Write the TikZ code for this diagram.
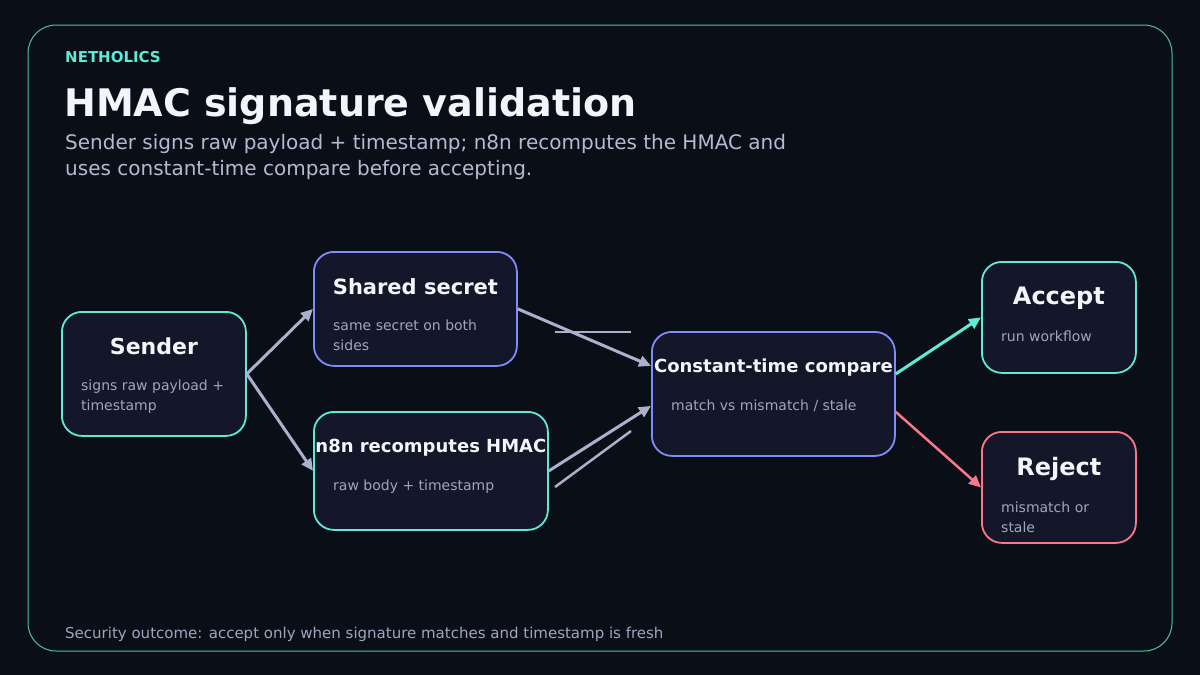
\documentclass[tikz,border=0pt]{standalone}
\usepackage{fontspec}
\setmainfont{DejaVu Sans}
\usetikzlibrary{arrows.meta,positioning,calc}

\definecolor{bgdark}{HTML}{0A0E17}
\definecolor{cardfill}{HTML}{131729}
\definecolor{tealline}{HTML}{5EEAD4}
\definecolor{indigoline}{HTML}{818CF8}
\definecolor{roseline}{HTML}{F8788A}
\definecolor{flowgrey}{HTML}{A9B1CC}
\definecolor{headwhite}{HTML}{F3F5FA}
\definecolor{leadgrey}{HTML}{B3BBD2}
\definecolor{notegrey}{HTML}{9EA6BE}

\begin{document}
\begin{tikzpicture}[x=1pt,y=-1pt,
    card/.style={draw, line width=1.8pt, fill=cardfill, rounded corners=20pt, inner sep=0pt, anchor=north west},
    cardhead/.style={anchor=base, text=headwhite, font=\bfseries\fontsize{22}{26}\selectfont, inner sep=0pt},
    cardnote/.style={anchor=base west, text=notegrey, font=\fontsize{14}{20}\selectfont, align=left, inner sep=0pt},
    flow/.style={draw=flowgrey, line width=3pt, -{Triangle[length=12pt,width=11pt]}},
  ]
    \useasboundingbox (0,0) rectangle (1200,675);
    \fill[bgdark] (0,0) rectangle (1200,675);
    \draw[tealline!80!bgdark, line width=1pt, rounded corners=28pt] (28,25) rectangle (1172,651);
    % header
    \node[anchor=base west, text=tealline, font=\bfseries\fontsize{15}{18}\selectfont, inner sep=0pt] (brand) at (65,62) {NETHOLICS};
    \node[anchor=base west, text=headwhite, font=\bfseries\fontsize{38}{45}\selectfont, inner sep=0pt] (title) at (64,116) {HMAC signature validation};
    % base of a two-line node is its last line
    \node[anchor=base west, text=leadgrey, font=\fontsize{20}{26}\selectfont, align=left, inner sep=0pt] (lead) at (65,175)
      {Sender signs raw payload + timestamp; n8n recomputes the HMAC and\\uses constant-time compare before accepting.};
    % Sender
    \node[card, draw=tealline, minimum width=184pt, minimum height=124pt] (sender) at (61,311) {};
    \node[cardhead] (senderhead) at ($(sender.north)+(0,43)$) {Sender};
    \node[cardnote] (sendernote) at ($(sender.north west)+(20,99)$) {signs raw payload +\\timestamp};
    % Shared secret
    \node[card, draw=indigoline, minimum width=203pt, minimum height=114pt] (secret) at (313,251) {};
    \node[cardhead, font=\bfseries\fontsize{21}{25}\selectfont] (secrethead) at ($(secret.north)+(0,43)$) {Shared secret};
    \node[cardnote] (secretnote) at ($(secret.north west)+(20,99)$) {same secret on both\\sides};
    % n8n recomputes
    \node[card, draw=tealline, minimum width=234pt, minimum height=118pt] (recompute) at (313,411) {};
    \node[cardhead, font=\bfseries\fontsize{18}{22}\selectfont] (recomputehead) at ($(recompute.north)+(0,41)$) {n8n recomputes HMAC};
    \node[cardnote] (recomputenote) at ($(recompute.north west)+(20,79)$) {raw body + timestamp};
    % Constant-time compare
    \node[card, draw=indigoline, minimum width=243pt, minimum height=124pt] (compare) at (651,331) {};
    \node[cardhead, font=\bfseries\fontsize{18}{22}\selectfont] (comparehead) at ($(compare.north)+(0,41)$) {Constant-time compare};
    \node[cardnote] (comparenote) at ($(compare.north west)+(20,79)$) {match vs mismatch / stale};
    % Accept / Reject
    \node[card, draw=tealline, minimum width=154pt, minimum height=111pt] (accept) at (981,261) {};
    \node[cardhead, font=\bfseries\fontsize{24}{28}\selectfont] (accepthead) at ($(accept.north)+(0,43)$) {Accept};
    \node[cardnote] (acceptnote) at ($(accept.north west)+(20,80)$) {run workflow};
    \node[card, draw=roseline, minimum width=154pt, minimum height=111pt] (reject) at (981,431) {};
    \node[cardhead, font=\bfseries\fontsize{24}{28}\selectfont] (rejecthead) at ($(reject.north)+(0,44)$) {Reject};
    \node[cardnote] (rejectnote) at ($(reject.north west)+(20,101)$) {mismatch or\\stale};
    % arrows
    \draw[flow] (sender.east) -- (secret.west);
    \draw[flow] (sender.east) -- (recompute.west);
    \draw[flow] (secret.east) -- ([yshift=28pt]compare.west);
    \draw[flow] (recompute.east) -- ([yshift=-12pt]compare.west);
    \draw[flow, draw=tealline] ([yshift=20pt]compare.east) -- (accept.west);
    \draw[flow, draw=roseline, line width=2.5pt] ([yshift=-18pt]compare.east) -- (reject.west);
    % stray strokes
    \draw[flowgrey, line width=2.5pt] (555,332) -- (631,332);
    \draw[flowgrey, line width=2.5pt] (555,487) -- (631,431);
    % footer
    \node[anchor=base west, text=notegrey, font=\fontsize{15}{18}\selectfont, inner sep=0pt] (footer) at (65,638)
      {Security outcome: accept only when signature matches and timestamp is fresh};
\end{tikzpicture}
\end{document}
